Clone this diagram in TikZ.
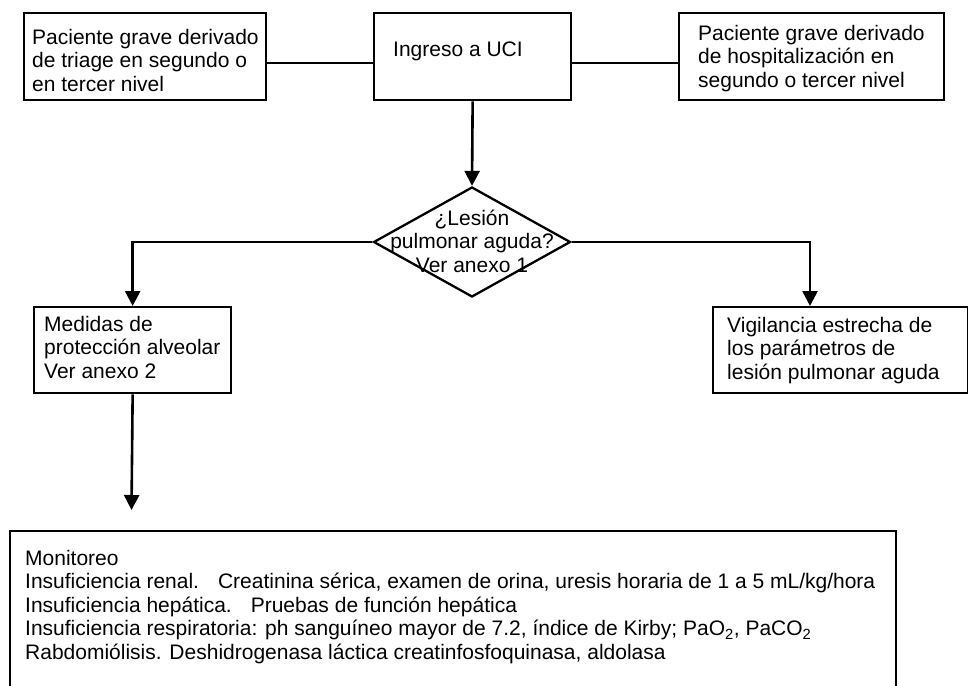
\documentclass[tikz,border=0pt]{standalone}
\usepackage{fontspec}
\setmainfont{Liberation Sans}
\usetikzlibrary{arrows.meta,shapes.geometric}
\begin{document}
\begin{tikzpicture}[x=1pt,y=-1pt,
  box/.style={draw, line width=2.3pt, inner sep=0pt, anchor=north west},
  txt/.style={inner sep=0pt, anchor=north west, align=left, font=\fontsize{21}{23.5}\selectfont},
  conn/.style={line width=2.6pt},
  arr/.style={conn, -{Triangle[length=15pt,width=15pt]}}]
\useasboundingbox (0,0) rectangle (968,685);
\clip (0,0) rectangle (968,685);
\fill[white] (0,0) rectangle (968,685);

% top row
\node[box, minimum width=242pt, minimum height=87pt] (b1) at (23,12) {};
\node[txt] (t1) at (32,29) {Paciente grave derivado\\de triage en segundo o\\en tercer nivel};
\node[box, minimum width=197pt, minimum height=87pt] (b0) at (373,12) {};
\node[txt] (t0) at (393,42) {Ingreso a UCI};
\node[box, minimum width=265pt, minimum height=87pt] (b2) at (678,12) {};
\node[txt] (t2) at (698,25) {Paciente grave derivado\\de hospitalización en\\segundo o tercer nivel};

% decision
\node[diamond, draw, line width=2.3pt, minimum width=197pt, minimum height=110pt, inner sep=0pt] (d) at (472,242) {};
\node[txt, anchor=center, align=center] (dt) at (472,241) {¿Lesión\\pulmonar aguda?\\Ver anexo 1};

% second row
\node[box, minimum width=197pt, minimum height=86pt] (b3) at (33,306) {};
\node[txt] (t3) at (44,316) {Medidas de\\protección alveolar\\Ver anexo 2};
\node[box, minimum width=255pt, minimum height=86pt] (b4) at (712,306) {};
\node[txt] (t4) at (727,317) {Vigilancia estrecha de\\los parámetros de\\lesión pulmonar aguda};

% bottom
\node[box, minimum width=886pt, minimum height=200pt] (b5) at (9,530) {};
\node[txt] (t5) at (25,550) {Monitoreo\\
Insuficiencia renal.\hspace{19pt}Creatinina sérica, examen de orina, uresis horaria de 1 a 5 mL/kg/hora\\
Insuficiencia hepática.\hspace{19pt}Pruebas de función hepática\\
Insuficiencia respiratoria: ph sanguíneo mayor de 7.2, índice de Kirby; PaO\textsubscript{2}, PaCO\textsubscript{2}\\
Rabdomiólisis. Deshidrogenasa láctica creatinfosfoquinasa, aldolasa};

% connectors
\coordinate (ylevel) at (0,63);
\draw[conn] (b1.east |- ylevel) -- (b0.west |- ylevel);
\draw[conn] (b0.east |- ylevel) -- (b2.west |- ylevel);
\draw[arr] (b0.south) -- (d.north);
\draw[arr] (d.west) -| (b3.north);
\coordinate (rc) at (810,242);
\draw[arr] (d.east) -- (rc) -- (rc |- b4.north);
\coordinate (mend) at (131.5,510);
\draw[arr] (b3.south) -- (mend);
\end{tikzpicture}
\end{document}
